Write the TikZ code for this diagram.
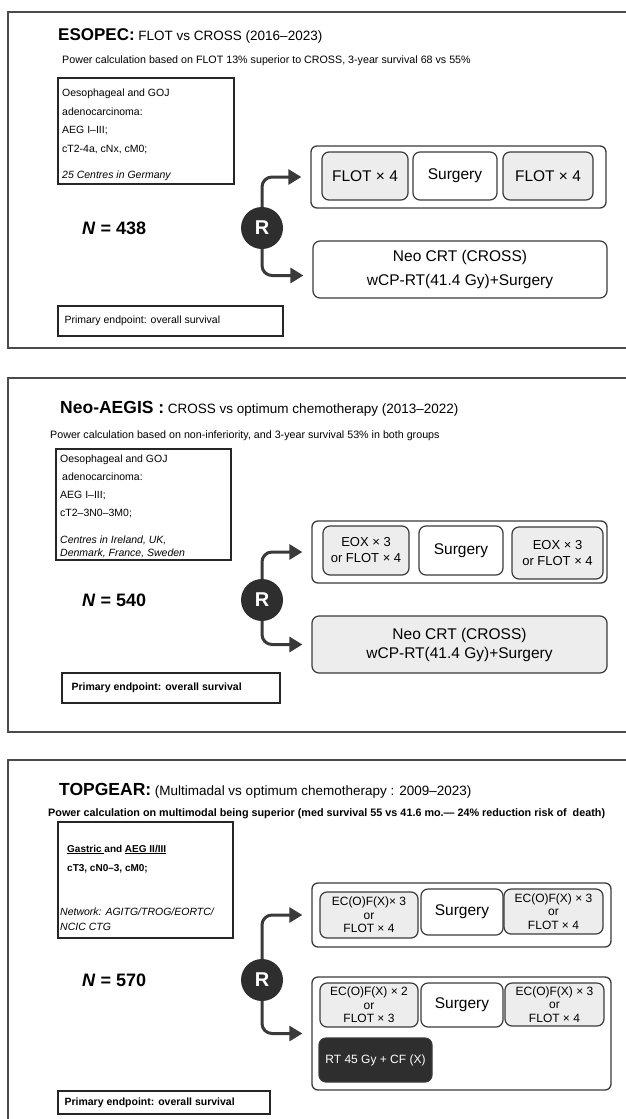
\documentclass[tikz,border=0pt]{standalone}
\usepackage{fontspec}
\setmainfont{Liberation Sans}
\usetikzlibrary{positioning,fit,arrows.meta}

\definecolor{framegray}{HTML}{4A4A4A}
\definecolor{armgray}{HTML}{3A3A3A}
\definecolor{boxfill}{HTML}{EDEDED}
\definecolor{darkfill}{HTML}{2E2E2E}

\newcommand{\fsize}[2]{\fontsize{#1}{#2}\selectfont}

\begin{document}
\begin{tikzpicture}[x=1pt, y=-1pt]
        % Styles used by all three trial panels
        \tikzset{
            panel/.style={draw=framegray, line width=2pt},
            head/.style={anchor=base west, inner sep=0pt, font=\fsize{13.5}{16}},
            power/.style={anchor=base west, inner sep=0pt, font=\fsize{10.7}{12}},
            critbox/.style={draw=black!85, line width=1.3pt, inner sep=0pt},
            % multi-line texts are placed by the baseline of their last line
            crittext/.style={anchor=base west, inner sep=0pt, align=left, font=\fsize{10.5}{18.5}},
            bign/.style={anchor=base west, inner sep=0pt, font=\bfseries\fsize{18}{20}},
            rand/.style={circle, fill=darkfill, minimum size=42pt, inner sep=0pt,
                text=white, font=\bfseries\fsize{20}{20}},
            outerbox/.style={draw=armgray, line width=1.3pt, rounded corners=6pt, inner sep=0pt},
            armbox/.style={draw=armgray, line width=1.2pt, rounded corners=7pt, inner sep=0pt,
                align=center, font=\fsize{15.5}{24}},
            chemo/.style={armbox, fill=boxfill},
            rtbox/.style={armbox, fill=darkfill, text=white, font=\fsize{12}{14}},
            endbox/.style={draw=black!85, line width=1.3pt, inner sep=0pt},
            endtext/.style={anchor=west, inner sep=0pt, font=\fsize{10.5}{12}},
            arm/.style={draw=armgray, line width=3pt, rounded corners=10pt,
                -{Triangle[length=13pt, width=15pt]}, shorten >=9pt},
        }

        \useasboundingbox (0,0) rectangle (626,1119);
        \clip (0,0) rectangle (626,1119);

        % ---------------- ESOPEC ----------------
        \draw[panel] (8,12) rectangle (640,348);
        \node[head] (title1) at (58,40)
            {{\bfseries\fsize{17}{20}ESOPEC:} FLOT vs CROSS (2016--2023)};
        \node[power] (power1) at (62,63)
            {Power calculation based on FLOT 13\% superior to CROSS, 3-year survival 68 vs 55\%};
        \node[critbox, fit={(58,78) (234,184)}] (crit1) {};
        \node[crittext] (cond1) at (62,178)
            {Oesophageal and GOJ\\ adenocarcinoma:\\ AEG I--III;\\ cT2-4a, cNx, cM0;\\[7.5pt]
             \textit{25 Centres in Germany}};
        \node[bign] (n1) at (82,234) {\textit{N} = 438};
        \node[rand] (r1) at (262,228) {R};

        \node[outerbox, fit={(311,146) (606,208)}] (arm1) {};
        \node[chemo, minimum width=86pt, minimum height=48pt] (flot1a) at (365,176) {FLOT × 4};
        \node[armbox, minimum width=84pt, minimum height=48pt] (surg1) at (455,176) {Surgery};
        \node[chemo, minimum width=90pt, minimum height=48pt] (flot1b) at (548,176) {FLOT × 4};
        \node[armbox, minimum width=294pt, minimum height=57pt] (cross1) at (460,269.5)
            {Neo CRT (CROSS)\\ wCP-RT(41.4 Gy)+Surgery};

        \draw[arm] (r1.north) |- (arm1.west);
        \draw[arm] (r1.south) |- ([yshift=-6pt]cross1.west);

        \node[endbox, fit={(58,306) (283,336)}] (end1) {};
        \node[endtext] (endtxt1) at ([xshift=7pt]end1.west) {Primary endpoint: overall survival};

        % ---------------- Neo-AEGIS ----------------
        \draw[panel] (8,378) rectangle (640,732);
        \node[head] (title2) at (60,413)
            {{\bfseries\fsize{17.5}{20}Neo-AEGIS :} CROSS vs optimum chemotherapy (2013--2022)};
        \node[power] (power2) at (50,438)
            {Power calculation based on non-inferiority, and 3-year survival 53\% in both groups};
        \node[critbox, fit={(56,449) (231,560)}] (crit2) {};
        \node[crittext, font=\fsize{10.5}{18}] (cond2) at (60,516)
            {Oesophageal and GOJ\\ \hspace{2pt}adenocarcinoma:\\ AEG I--III;\\ cT2--3N0--3M0;};
        \node[crittext, font=\itshape\fsize{10.5}{13}] (site2) at (60,556)
            {Centres in Ireland, UK,\\ Denmark, France, Sweden};
        \node[bign] (n2) at (82,606) {\textit{N} = 540};
        \node[rand] (r2) at (262,600) {R};

        \node[outerbox, fit={(312,521) (607,583)}] (arm2) {};
        \node[chemo, minimum width=86pt, minimum height=49pt, font=\fsize{13}{16}] (eox2a)
            at (366,550.5) {EOX × 3\\ or FLOT × 4};
        \node[armbox, minimum width=84pt, minimum height=49pt] (surg2) at (461,550.5) {Surgery};
        \node[chemo, minimum width=91pt, minimum height=52pt, font=\fsize{13}{16}] (eox2b)
            at (557.5,553) {EOX × 3\\ or FLOT × 4};
        \node[chemo, minimum width=295pt, minimum height=57pt, font=\fsize{15.5}{19}] (cross2)
            at (459.5,644.5) {Neo CRT (CROSS)\\ wCP-RT(41.4 Gy)+Surgery};

        \draw[arm] (r2.north) |- (arm2.west);
        \draw[arm] (r2.south) |- (cross2.west);

        \node[endbox, fit={(62,673) (280,703)}] (end2) {};
        \node[endtext, font=\bfseries\fsize{10.5}{12}] (endtxt2) at ([xshift=10pt]end2.west)
            {Primary endpoint: overall survival};

        % ---------------- TOPGEAR ----------------
        \draw[panel] (8,760) rectangle (640,1140);
        \node[head] (title3) at (59,795)
            {{\bfseries\fsize{17.5}{20}TOPGEAR:} (Multimadal vs optimum chemotherapy : 2009--2023)};
        \node[power, font=\bfseries\fsize{10.8}{12}] (power3) at (48,816)
            {Power calculation on multimodal being superior (med survival 55 vs 41.6 mo.— 24\% reduction risk of \ death)};
        \node[critbox, fit={(58,822) (233,938)}] (crit3) {};
        \node[crittext, font=\bfseries\fsize{10}{19}] (cond3) at (67,871)
            {\underline{Gastric }and \underline{AEG II/III}\\ cT3, cN0--3, cM0;};
        \node[crittext, font=\itshape\fsize{10.5}{15}] (site3) at (60,930)
            {Network: AGITG/TROG/EORTC/\\ NCIC CTG};
        \node[bign] (n3) at (82,986) {\textit{N} = 570};
        \node[rand] (r3) at (262,980) {R};

        \node[outerbox, fit={(312,883) (611,947)}] (arm3a) {};
        \node[chemo, minimum width=98pt, minimum height=46pt, font=\fsize{12}{13.5}] (ecf3a)
            at (369,915) {EC(O)F(X)× 3\\ or\\ FLOT × 4};
        \node[armbox, minimum width=82pt, minimum height=46pt] (surg3a) at (462,912) {Surgery};
        \node[chemo, minimum width=99pt, minimum height=45pt, font=\fsize{12}{13.5}] (ecf3b)
            at (553.5,911.5) {EC(O)F(X) × 3\\ or\\ FLOT × 4};

        \node[outerbox, fit={(312,977) (611,1090)}] (arm3b) {};
        \node[chemo, minimum width=98pt, minimum height=44pt, font=\fsize{12}{13.5}] (ecf3c)
            at (369,1005) {EC(O)F(X) × 2\\ or\\ FLOT × 3};
        \node[armbox, minimum width=82pt, minimum height=44pt] (surg3b) at (462,1005) {Surgery};
        \node[chemo, minimum width=99pt, minimum height=43pt, font=\fsize{12}{13.5}] (ecf3d)
            at (554.5,1004.5) {EC(O)F(X) × 3\\ or\\ FLOT × 4};
        \node[rtbox, minimum width=113pt, minimum height=44pt] (rt3) at (375.5,1060) {RT 45 Gy + CF (X)};

        \draw[arm] (r3.north) |- (arm3a.west);
        \draw[arm] (r3.south) |- (arm3b.west);

        \node[endbox, fit={(58,1091) (270,1114)}] (end3) {};
        \node[endtext, font=\bfseries\fsize{10.5}{12}] (endtxt3) at ([xshift=7pt]end3.west)
            {Primary endpoint: overall survival};
\end{tikzpicture}
\end{document}
